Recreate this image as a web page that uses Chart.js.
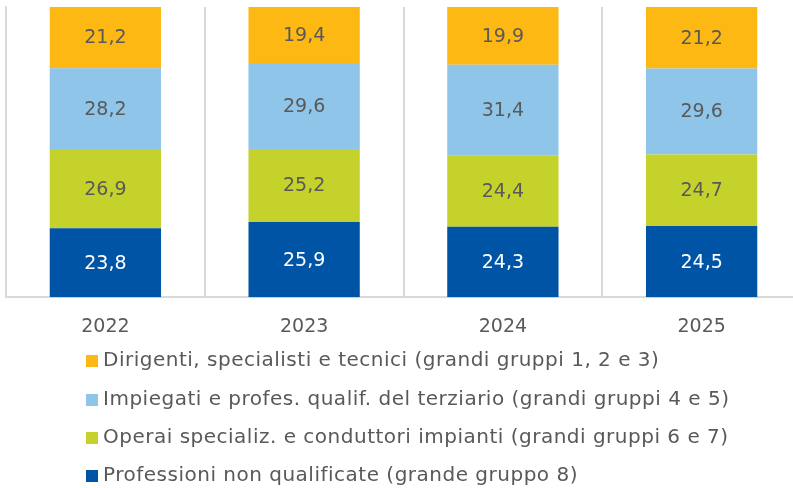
<!DOCTYPE html>
<html>
<head>
<meta charset="utf-8">
<script src="https://cdn.jsdelivr.net/npm/chart.js@4.4.1/dist/chart.umd.min.js"></script>
<style>
    html, body { margin: 0; padding: 0; background: #fff; overflow: hidden; }
    #wrap { width: 801px; height: 488px; position: relative; }
</style>
</head>
<body>
<div id="wrap"><canvas id="occupChart"></canvas></div>
<script>
// Years on the x axis
var anni = ['2022', '2023', '2024', '2025'];

// Shares by professional group (bottom to top of each bar)
var nonQualificate = [23.8, 25.9, 24.3, 24.5];
var operai = [26.9, 25.2, 24.4, 24.7];
var impiegati = [28.2, 29.6, 31.4, 29.6];
var dirigenti = [21.2, 19.4, 19.9, 21.2];

var etichette = [
    'Professioni non qualificate (grande gruppo 8)',
    'Operai specializ. e conduttori impianti (grandi gruppi 6 e 7)',
    'Impiegati e profes. qualif. del terziario (grandi gruppi 4 e 5)',
    'Dirigenti, specialisti e tecnici (grandi gruppi 1, 2 e 3)'
];

var FONT = '"DejaVu Sans", sans-serif';
var TEXT_GREY = '#595959';

// Draws the value inside each segment, with decimal comma
var valueLabels = {
    id: 'valueLabels',
    afterDatasetsDraw: function (chart) {
        var ctx = chart.ctx;
        ctx.save();
        ctx.font = '19px ' + FONT;
        ctx.textAlign = 'center';
        ctx.textBaseline = 'middle';
        chart.data.datasets.forEach(function (ds, i) {
            chart.getDatasetMeta(i).data.forEach(function (bar, j) {
                var mid = (bar.y + bar.base) / 2;
                ctx.fillStyle = ds.labelColor;
                ctx.fillText(ds.data[j].toFixed(1).replace('.', ','), bar.x, mid + 1);
            });
        });
        ctx.restore();
    }
};

// Vertical legend under the plot, top series first
var stackedLegend = {
    id: 'stackedLegend',
    afterDraw: function (chart) {
        var ctx = chart.ctx;
        var rows = [361, 400, 438, 476];
        ctx.save();
        ctx.font = '20px ' + FONT;
        ctx.letterSpacing = '0.5px';
        ctx.textBaseline = 'middle';
        ctx.textAlign = 'left';
        var dsList = chart.data.datasets.slice().reverse();
        dsList.forEach(function (ds, k) {
            var y = rows[k];
            ctx.fillStyle = ds.backgroundColor;
            ctx.fillRect(86, y - 6, 12, 12);
            ctx.fillStyle = TEXT_GREY;
            ctx.fillText(ds.label, 103, y);
        });
        ctx.restore();
    }
};

var ctx = document.getElementById('occupChart').getContext('2d');

var occupChart = new Chart(ctx, {
    type: 'bar',
    data: {
        labels: anni,
        datasets: [{
            label: etichette[0],
            data: nonQualificate,
            backgroundColor: '#0054A6',
            labelColor: '#ffffff'
        }, {
            label: etichette[1],
            data: operai,
            backgroundColor: '#C5D22C',
            labelColor: TEXT_GREY
        }, {
            label: etichette[2],
            data: impiegati,
            backgroundColor: '#8EC5E8',
            labelColor: TEXT_GREY
        }, {
            label: etichette[3],
            data: dirigenti,
            backgroundColor: '#FDB813',
            labelColor: TEXT_GREY
        }]
    },
    options: {
        responsive: true,
        maintainAspectRatio: false,
        animation: false,
        barPercentage: 0.56,
        categoryPercentage: 1,
        layout: {
            padding: { left: 6, top: 7, right: 0, bottom: 132 }
        },
        scales: {
            x: {
                stacked: true,
                grid: {
                    display: true,
                    offset: true,
                    color: '#D9D9D9',
                    lineWidth: 2,
                    drawTicks: false
                },
                border: { display: true, color: '#D9D9D9', width: 2 },
                ticks: {
                    color: TEXT_GREY,
                    font: { family: FONT, size: 19 },
                    padding: 18
                }
            },
            y: {
                stacked: true,
                min: 0,
                max: 100,
                grid: { display: false, drawTicks: false },
                border: { display: true, color: '#D9D9D9', width: 2 },
                ticks: { display: false }
            }
        },
        plugins: {
            legend: { display: false },
            tooltip: { enabled: false }
        }
    },
    plugins: [valueLabels, stackedLegend]
});
</script>
</body>
</html>
